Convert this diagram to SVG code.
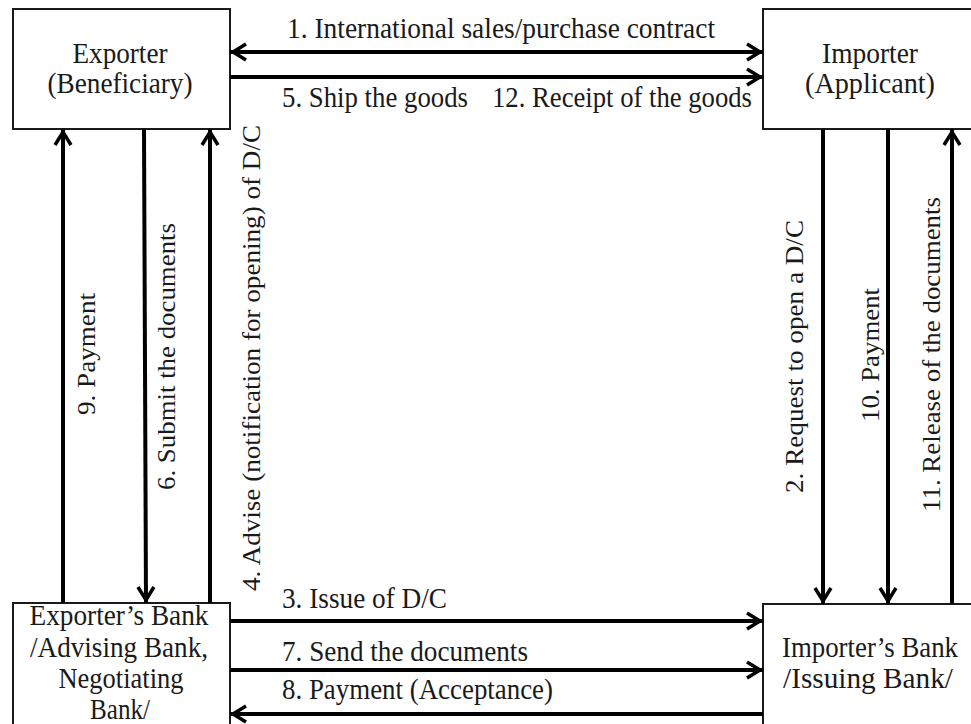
<svg xmlns="http://www.w3.org/2000/svg" width="971" height="724" viewBox="0 0 971 724">
  <defs>
    <marker id="head" markerUnits="userSpaceOnUse" viewBox="-18 -12 22 24" markerWidth="22" markerHeight="24" refX="3" refY="0" orient="auto-start-reverse" overflow="visible">
      <path d="M-13,-8 L0,0 L-13,8" fill="none" stroke="#000" stroke-width="3.5" stroke-linejoin="miter"/>
    </marker>
    <style>
      .box { fill: #fff; stroke: #1a1a1a; stroke-width: 2; }
      .lbl { font-family: 'Liberation Serif', 'DejaVu Serif', serif; fill: #1a1a1a; }
      .node { font-size: 29px; text-anchor: middle; }
      .h { font-size: 29px; }
      .v { font-size: 26px; }
      .flow { fill: none; stroke: #000; stroke-width: 4; }
      .end { marker-end: url(#head); }
      .both { marker-start: url(#head); marker-end: url(#head); }
    </style>
  </defs>
  <rect width="971" height="724" fill="#fff"/>

  <!-- parties -->
  <g id="exporter" font-family="Liberation Serif, serif">
    <rect class="box" x="13" y="9" width="217" height="120"/>
    <text class="lbl node" x="120" y="63" textLength="95" lengthAdjust="spacingAndGlyphs">Exporter</text>
    <text class="lbl node" x="120" y="93" textLength="145" lengthAdjust="spacingAndGlyphs">(Beneficiary)</text>
  </g>
  <g id="importer" font-family="Liberation Serif, serif">
    <rect class="box" x="763" y="9" width="222" height="120"/>
    <text class="lbl node" x="870" y="63" textLength="96" lengthAdjust="spacingAndGlyphs">Importer</text>
    <text class="lbl node" x="870" y="93" textLength="130" lengthAdjust="spacingAndGlyphs">(Applicant)</text>
  </g>
  <g id="exporters-bank" font-family="Liberation Serif, serif">
    <rect class="box" x="13" y="603" width="217" height="135"/>
    <text class="lbl node" x="119" y="625" textLength="179" lengthAdjust="spacingAndGlyphs">Exporter’s Bank</text>
    <text class="lbl node" x="119" y="657" textLength="178" lengthAdjust="spacingAndGlyphs">/Advising Bank,</text>
    <text class="lbl node" x="121" y="688" textLength="125" lengthAdjust="spacingAndGlyphs">Negotiating</text>
    <text class="lbl node" x="120" y="719" textLength="60" lengthAdjust="spacingAndGlyphs">Bank/</text>
  </g>
  <g id="importers-bank" font-family="Liberation Serif, serif">
    <rect class="box" x="763" y="604" width="222" height="135"/>
    <text class="lbl node" x="870" y="657" textLength="176" lengthAdjust="spacingAndGlyphs">Importer’s Bank</text>
    <text class="lbl node" x="868" y="688" textLength="170" lengthAdjust="spacingAndGlyphs">/Issuing Bank/</text>
  </g>

  <!-- flows between the parties -->
  <g id="connectors">
    <line class="flow both" x1="230" y1="52" x2="763" y2="52"/>
    <line class="flow end" x1="230" y1="77" x2="763" y2="77"/>
    <line class="flow end" x1="230" y1="621" x2="763" y2="621"/>
    <line class="flow end" x1="230" y1="670" x2="763" y2="670"/>
    <line class="flow end" x1="763" y1="714" x2="230" y2="714"/>

    <line class="flow end" x1="63" y1="603" x2="63" y2="129"/>
    <line class="flow end" x1="144" y1="129" x2="146" y2="603"/>
    <line class="flow end" x1="210" y1="603" x2="210" y2="129"/>

    <line class="flow end" x1="823" y1="129" x2="823" y2="604"/>
    <line class="flow end" x1="888" y1="129" x2="888" y2="604"/>
    <line class="flow end" x1="952" y1="604" x2="952" y2="129"/>
  </g>

  <!-- flow labels -->
  <g id="labels" font-family="Liberation Serif, serif">
    <text class="lbl h" x="287" y="38" textLength="428" lengthAdjust="spacingAndGlyphs">1. International sales/purchase contract</text>
    <text class="lbl h" x="282" y="107" textLength="186" lengthAdjust="spacingAndGlyphs">5. Ship the goods</text>
    <text class="lbl h" x="492" y="107" textLength="260" lengthAdjust="spacingAndGlyphs">12. Receipt of the goods</text>
    <text class="lbl h" x="282" y="608" textLength="165" lengthAdjust="spacingAndGlyphs">3. Issue of D/C</text>
    <text class="lbl h" x="282" y="661" textLength="246" lengthAdjust="spacingAndGlyphs">7. Send the documents</text>
    <text class="lbl h" x="282" y="699" textLength="271" lengthAdjust="spacingAndGlyphs">8. Payment (Acceptance)</text>

    <text class="lbl v" transform="translate(95,415) rotate(-90)" textLength="122" lengthAdjust="spacingAndGlyphs">9. Payment</text>
    <text class="lbl v" transform="translate(175,490) rotate(-90)" textLength="267" lengthAdjust="spacingAndGlyphs">6. Submit the documents</text>
    <text class="lbl v" transform="translate(260,591) rotate(-90)" textLength="466" lengthAdjust="spacingAndGlyphs">4. Advise (notification for opening) of D/C</text>
    <text class="lbl v" transform="translate(803,493) rotate(-90)" textLength="273" lengthAdjust="spacingAndGlyphs">2. Request to open a D/C</text>
    <text class="lbl v" transform="translate(879,422) rotate(-90)" textLength="134" lengthAdjust="spacingAndGlyphs">10. Payment</text>
    <text class="lbl v" transform="translate(940,512) rotate(-90)" textLength="315" lengthAdjust="spacingAndGlyphs">11. Release of the documents</text>
  </g>
</svg>
